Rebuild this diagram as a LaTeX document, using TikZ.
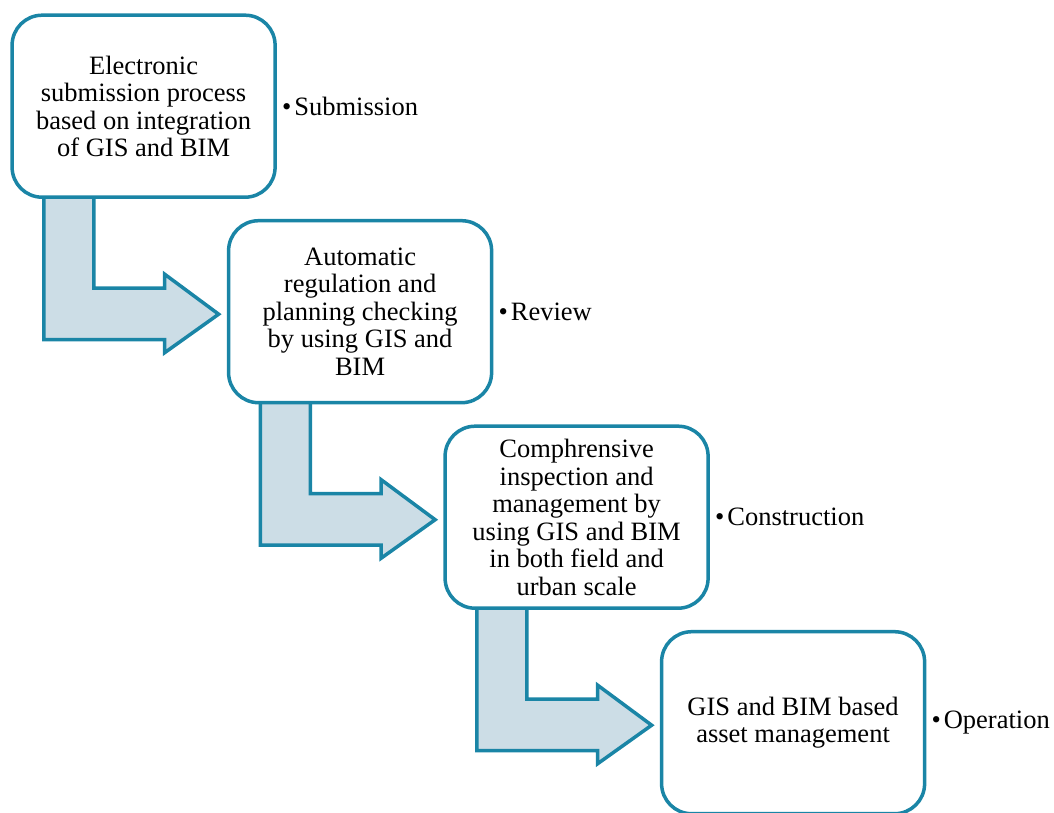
\documentclass[tikz,border=0pt]{standalone}
\usepackage{xcolor}
\usepackage{fontspec}
\setmainfont{Liberation Serif}
\usepackage{tikz}
\usetikzlibrary{calc}
\usetikzlibrary{backgrounds}
\usetikzlibrary{positioning}

\definecolor{stageline}{RGB}{26,133,166}
\definecolor{stagefill}{RGB}{204,221,230}

\begin{document}
\begin{tikzpicture}[x=1pt, y=1pt,
		stage/.style={draw=stageline, line width=3.5pt, fill=white, rounded corners=30pt, minimum width=263pt, minimum height=182pt, align=center, font=\fontsize{26.5}{27.5}\selectfont},
		phase/.style={anchor=west, inner sep=0pt, xshift=5pt, font=\fontsize{26.5}{27.5}\selectfont},
		flow/.style={draw=stageline, line width=3.5pt, fill=stagefill, line join=miter}]
			\useasboundingbox (0,0) rectangle (1054,-813);
			\node[stage] at(143.6, -106.2) (sub){Electronic\\submission process\\based on integration\\of GIS and BIM};
			\node[stage] at(360.1, -311.7) (rev){Automatic\\regulation and\\planning checking\\by using GIS and\\BIM};
			\node[stage] at(576.6, -517.2) (con){Comphrensive\\inspection and\\management by\\using GIS and BIM\\in both field and\\urban scale};
			\node[stage] at(793.1, -722.7) (ope){GIS and BIM based\\asset management};
			\node[phase] at(sub.east) (subl){•\kern3pt Submission};
			\node[phase] at(rev.east) (revl){•\kern3pt Review};
			\node[phase] at(con.east) (conl){•\kern3pt Construction};
			\node[phase] at(ope.east) (opel){•\kern3pt Operation};
			\begin{scope}[on background layer]
				\filldraw[flow] ($(sub.south west)+(33.4,20)$) -- ++(50,0) |- ($(rev.west)+(-62.2,23.7)$) -- ++(0,13.8) -- ($(rev.west)+(-8.2,-2.5)$) -- ($(rev.west)+(-62.2,-41)$) -- ++(0,13) -| ($(sub.south west)+(33.4,20)$) -- cycle;
				\filldraw[flow] ($(rev.south west)+(33.4,20)$) -- ++(50,0) |- ($(con.west)+(-62.2,23.7)$) -- ++(0,13.8) -- ($(con.west)+(-8.2,-2.5)$) -- ($(con.west)+(-62.2,-41)$) -- ++(0,13) -| ($(rev.south west)+(33.4,20)$) -- cycle;
				\filldraw[flow] ($(con.south west)+(33.4,20)$) -- ++(50,0) |- ($(ope.west)+(-62.2,23.7)$) -- ++(0,13.8) -- ($(ope.west)+(-8.2,-2.5)$) -- ($(ope.west)+(-62.2,-41)$) -- ++(0,13) -| ($(con.south west)+(33.4,20)$) -- cycle;
			\end{scope}
		\end{tikzpicture}
\end{document}
